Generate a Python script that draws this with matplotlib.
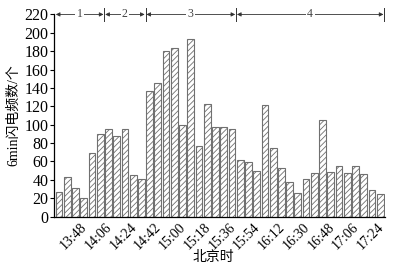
import numpy as np
import matplotlib
matplotlib.use('Agg')
import matplotlib.pyplot as plt
import matplotlib.transforms as mtransforms

plt.rcParams['font.family'] = ['Liberation Serif', 'Noto Sans CJK SC']
plt.rcParams['hatch.color'] = '#9a9a9a'
plt.rcParams['hatch.linewidth'] = 0.6

# 6-min flash counts, one bar per interval
counts = [27, 43, 31, 20, 69, 90, 95, 88, 95, 45,
          41, 137, 145, 180, 183, 100, 193, 77, 122, 97,
          98, 95, 62, 59, 50, 121, 75, 53, 38, 26,
          41, 47, 105, 49, 55, 47, 55, 46, 29, 25]
tick_pos = [2, 5, 8, 11, 14, 17, 20, 23, 26, 29, 32, 35, 38]
tick_labels = ['13:48', '14:06', '14:24', '14:42', '15:00', '15:18', '15:36',
               '15:54', '16:12', '16:30', '16:48', '17:06', '17:24']
stage_edges = [-0.5, 5.5, 10.5, 21.5, 39.5]
stage_names = ['1', '2', '3', '4']

fig = plt.figure(figsize=(3.95, 2.67), dpi=100)
ax = fig.add_axes([0.137, 0.189, 0.838, 0.757])

x = np.arange(len(counts))
ax.bar(x, counts, width=0.82, color='white', edgecolor='#707070',
       linewidth=0.8, hatch='//////')

ax.set_xlim(-0.6, 39.6)
ax.set_ylim(0, 220)
ax.set_yticks(np.arange(0, 221, 20))
ax.set_xticks(tick_pos)
ax.set_xticklabels(tick_labels, rotation=45, ha='right', rotation_mode='anchor')
ax.tick_params(axis='x', length=0, pad=3, labelsize=10)
ax.tick_params(axis='y', length=3, width=0.8, pad=1, labelsize=11.5)
shift = mtransforms.ScaledTranslation(5 / 100, 0, fig.dpi_scale_trans)
for lab in ax.get_xticklabels():
    lab.set_transform(lab.get_transform() + shift)
for s in ['top', 'right']:
    ax.spines[s].set_visible(False)
ax.spines['left'].set_linewidth(0.9)
ax.spines['bottom'].set_linewidth(0.9)

ax.set_ylabel('6min闪电频数/个', fontsize=10, labelpad=3)
fig.text(213 / 395, 1 - 257 / 267, '北京时', ha='center', va='center', fontsize=10)

# stage markers along the top
for e in stage_edges[1:]:
    ax.plot([e, e], [213, 227], color='#333333', lw=0.7, clip_on=False)
for a, b, name in zip(stage_edges[:-1], stage_edges[1:], stage_names):
    ax.annotate('', xy=(a + 0.1, 220), xytext=(b - 0.1, 220),
                arrowprops=dict(arrowstyle='<|-|>', color='#333333', lw=0.6,
                                mutation_scale=6, shrinkA=0, shrinkB=0),
                annotation_clip=False)
    ax.text((a + b) / 2, 220, name, ha='center', va='center', fontsize=8.5,
            color='#444444', bbox=dict(facecolor='white', edgecolor='none', pad=1))

fig.savefig('out.png', dpi=100)
